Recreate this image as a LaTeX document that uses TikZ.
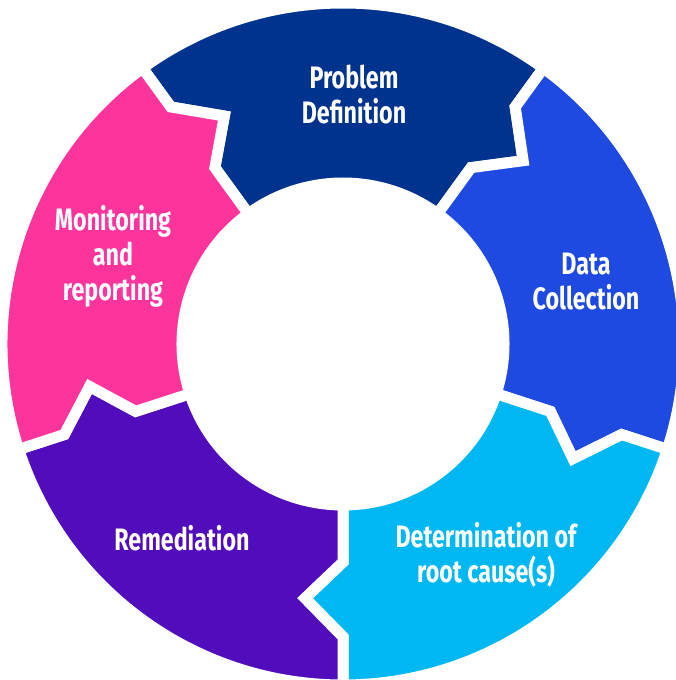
\documentclass[tikz,border=0pt]{standalone}
\usepackage{fontspec}
\newfontfamily\labelfont{Fira Sans}[FakeStretch=0.75]

\definecolor{segnavy}{RGB}{0,51,141}
\definecolor{segblue}{RGB}{31,74,226}
\definecolor{segcyan}{RGB}{0,184,241}
\definecolor{segpurple}{RGB}{81,13,188}
\definecolor{segpink}{RGB}{253,52,156}

% One ring segment: #1 = angle of its counter-clockwise edge, #2 = fill colour.
% Each edge carries a chevron; the clockwise edge points into the next segment.
\newcommand\ringseg[2]{%
  \pgfmathsetmacro\segB{#1-72}%
  \filldraw[ringpart, fill=#2]
    (#1:161) -- (#1:218) -- ({#1-8.5}:257) -- (#1:293) -- (#1:341)
    arc[start angle=#1, end angle=\segB, radius=341]
    -- (\segB:293) -- ({\segB-8.5}:257) -- (\segB:218) -- (\segB:161)
    arc[start angle=\segB, end angle=#1, radius=161] -- cycle;}

\begin{document}
\begin{tikzpicture}[x=1pt,y=1pt,
  ringpart/.style={draw=white, line width=11pt, line join=miter},
  lbl/.style={text=white, align=center,
    font=\labelfont\bfseries\fontsize{31}{35}\selectfont}]
\useasboundingbox (-343,-336) rectangle (332,344);

\ringseg{126}{segnavy}
\ringseg{54}{segblue}
\ringseg{-18}{segcyan}
\ringseg{-90}{segpurple}
\ringseg{-162}{segpink}

\node[lbl] (problem) at (11,249) {Problem\\Definition};
\node[lbl] (data) at (243,62) {Data\\Collection};
\node[lbl] (cause) at (143,-211) {Determination of\\root cause(s)};
\node[lbl] (remedy) at (-161,-194) {Remediation};
\node[lbl] (monitor) at (-230,88) {Monitoring\\and\\reporting};
\end{tikzpicture}
\end{document}
